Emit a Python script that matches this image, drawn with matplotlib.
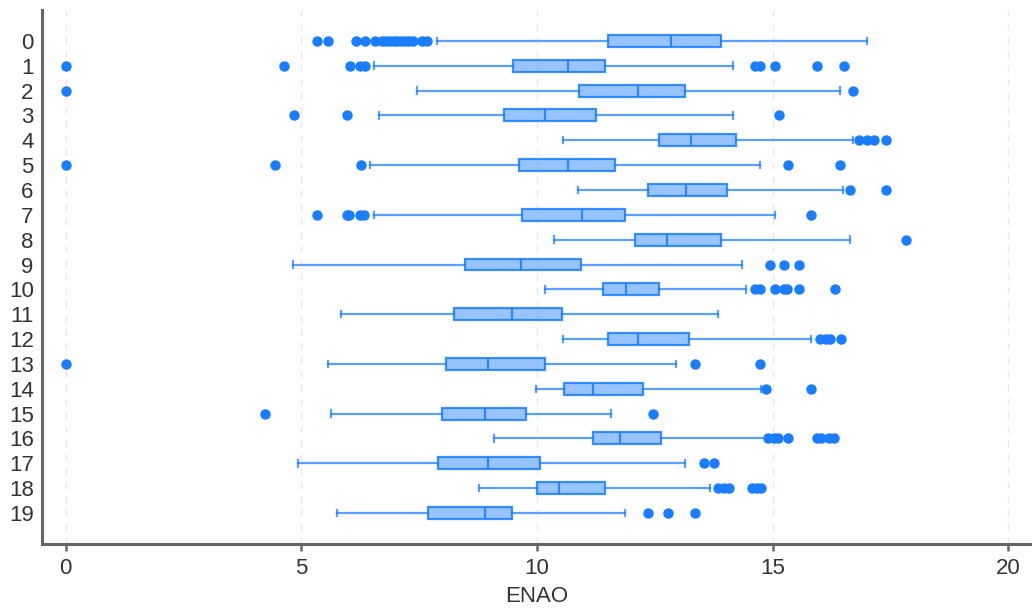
import matplotlib
matplotlib.use("Agg")
import matplotlib.pyplot as plt

plt.rcParams['font.family'] = ['Liberation Sans', 'DejaVu Sans']

groups = [str(i) for i in range(20)]
whislo = [7.87, 6.55, 7.46, 6.64, 10.56, 6.45, 10.88, 6.55, 10.35, 4.82,
          10.16, 5.85, 10.56, 5.56, 9.97, 5.62, 9.08, 4.94, 8.76, 5.75]
q1 = [11.50, 9.49, 10.90, 9.29, 12.58, 9.61, 12.36, 9.69, 12.07, 8.48,
      11.39, 8.23, 11.50, 8.08, 10.58, 7.99, 11.18, 7.89, 9.99, 7.68]
med = [12.85, 10.65, 12.15, 10.18, 13.26, 10.65, 13.15, 10.96, 12.75, 9.67,
       11.88, 9.46, 12.15, 8.97, 11.18, 8.89, 11.75, 8.97, 10.46, 8.89]
q3 = [13.91, 11.45, 13.13, 11.26, 14.23, 11.66, 14.04, 11.86, 13.91, 10.94,
      12.58, 10.52, 13.23, 10.16, 12.24, 9.76, 12.64, 10.07, 11.45, 9.48]
whishi = [17.01, 14.15, 16.42, 14.15, 16.71, 14.74, 16.50, 15.04, 16.63, 14.34,
          14.44, 13.83, 15.82, 12.94, 14.76, 11.56, 14.85, 13.13, 13.66, 11.86]
fliers = [
    [5.34, 5.56, 6.15, 6.36, 6.57, 6.72, 6.80, 6.88, 6.96, 7.04, 7.12, 7.20, 7.28, 7.36, 7.57, 7.66],
    [0.0, 4.63, 6.04, 6.24, 6.36, 14.63, 14.74, 15.04, 15.93, 16.52],
    [0.0, 16.71],
    [4.84, 5.96, 15.14],
    [16.82, 17.01, 17.14, 17.41],
    [0.0, 4.44, 6.26, 15.33, 16.42],
    [16.63, 17.41],
    [5.34, 5.96, 6.02, 6.24, 6.34, 15.82],
    [17.82],
    [14.95, 15.23, 15.55],
    [14.63, 14.72, 15.04, 15.23, 15.31, 15.55, 16.33],
    [],
    [16.01, 16.14, 16.22, 16.44],
    [0.0, 13.36, 14.74],
    [14.85, 15.82],
    [4.24, 12.47],
    [14.91, 15.02, 15.12, 15.33, 15.93, 16.03, 16.20, 16.31],
    [13.55, 13.76],
    [13.83, 13.96, 14.08, 14.55, 14.66, 14.76],
    [12.36, 12.77, 13.36],
]
xticks = [0, 5, 10, 15, 20]
xlabel = "ENAO"

blue = '#1a7cff'
stats = []
for i in range(len(groups)):
    stats.append(dict(label=groups[i], whislo=whislo[i], q1=q1[i], med=med[i],
                      q3=q3[i], whishi=whishi[i], fliers=fliers[i]))

fig = plt.figure(figsize=(10.32, 6.12), dpi=100)
ax = fig.add_axes([0.0407, 0.111, 0.9593, 0.873])

ax.bxp(stats, positions=list(range(len(groups))), orientation='horizontal',
       widths=0.48, capwidths=0.26, patch_artist=True, showfliers=True,
       boxprops=dict(facecolor=(0.10, 0.49, 1.0, 0.45), edgecolor=(0.10, 0.49, 1.0, 0.85), linewidth=1.6),
       medianprops=dict(color=(0.10, 0.49, 1.0, 0.85), linewidth=1.6),
       whiskerprops=dict(color=(0.10, 0.49, 1.0, 0.72), linewidth=1.6),
       capprops=dict(color=(0.10, 0.49, 1.0, 0.72), linewidth=1.6),
       flierprops=dict(marker='o', markerfacecolor=blue, markeredgecolor=blue,
                       markersize=6.5, linestyle='none'))

ax.set_ylim(20.25, -1.25)
ax.set_xlim(-0.5, 20.5)
ax.set_yticks(range(len(groups)))
ax.set_yticklabels(groups)
ax.set_xticks(xticks)
ax.set_xticklabels([str(t) for t in xticks])
ax.set_xlabel(xlabel, fontsize=16, color='#333333', labelpad=5)

for x in xticks:
    ax.axvline(x, color='#e8e8e8', linestyle=(0, (5, 5)), linewidth=1.0, zorder=0)

for s in ['top', 'right']:
    ax.spines[s].set_visible(False)
for s in ['left', 'bottom']:
    ax.spines[s].set_color('#666666')
    ax.spines[s].set_linewidth(2.2)

ax.tick_params(axis='y', length=0, pad=6, labelsize=16, labelcolor='#333333')
ax.tick_params(axis='x', length=5, width=1.8, color='#666666', pad=5, labelsize=16, labelcolor='#333333')

fig.savefig('out.png', dpi=100)
